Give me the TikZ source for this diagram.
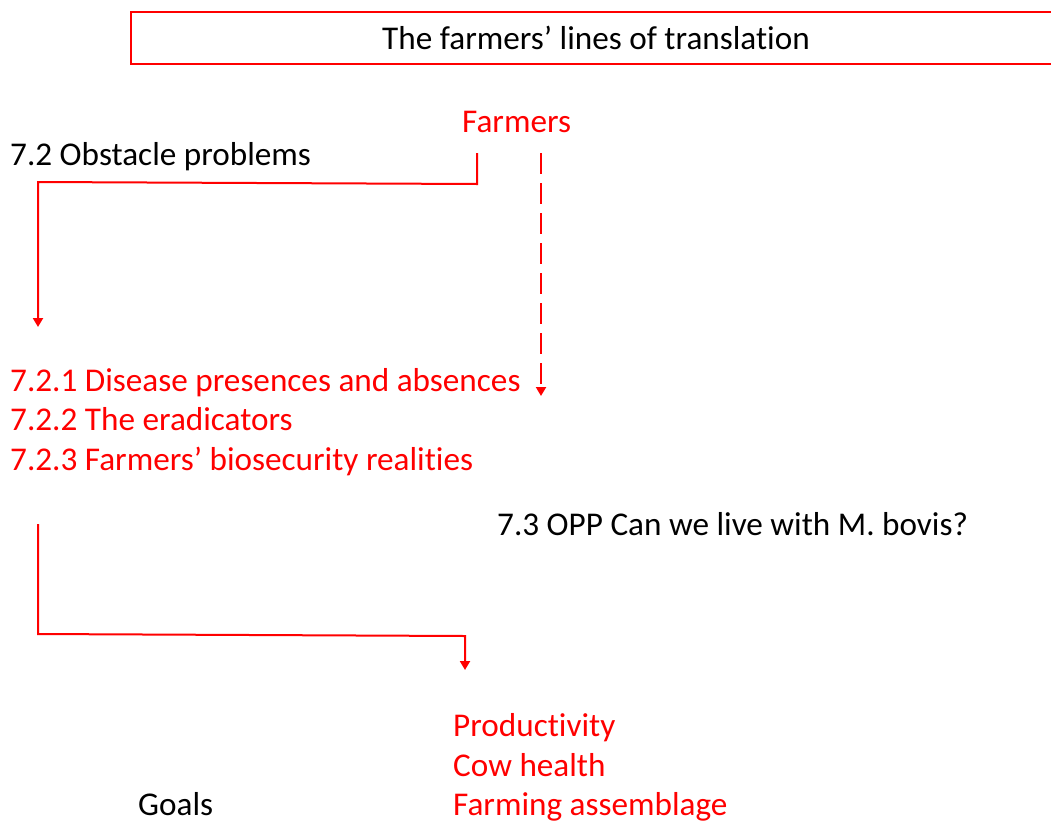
\documentclass[tikz,border=0pt]{standalone}
\usepackage{fontspec}
\setmainfont{Carlito}[Ligatures={NoCommon,NoContextual}]
\usetikzlibrary{arrows.meta}
\definecolor{lred}{RGB}{255,0,0}
\begin{document}
\begin{tikzpicture}[x=1pt,y=-1pt,
  lbl/.style={anchor=base west,inner sep=0pt,font=\fontsize{33.2}{40}\selectfont},
  redlbl/.style={lbl,text=lred},
  link/.style={draw=lred,line width=2pt,-{Triangle[width=10pt,length=9pt]}},
  dashlink/.style={link,dash pattern=on 21pt off 9pt}]
\useasboundingbox (0,0) rectangle (1051,822);
% title banner, running off the right edge
\draw[lred,line width=2pt] (1060,64) -- (131,64) -- (131,12) -- (1060,12);
\node[lbl,anchor=base] (title) at (596,49) {The farmers’ lines of translation};
% labels
\node[redlbl] (farmers) at (462,132) {Farmers};
\node[lbl] (obstacle) at (10,165) {7.2 Obstacle problems};
\node[redlbl] (s721) at (10,391) {7.2.1 Disease presences and absences};
\node[redlbl] (s722) at (10,430) {7.2.2 The eradicators};
\node[redlbl] (s723) at (10,470) {7.2.3 Farmers’ biosecurity realities};
\node[lbl] (opp) at (497,535) {7.3 OPP Can we live with M. bovis?};
\node[redlbl] (prod) at (453,736) {Productivity};
\node[redlbl] (cow) at (453,776) {Cow health};
\node[redlbl] (assem) at (453,815) {Farming assemblage};
\node[lbl] (goals) at (138,815) {Goals};
% connector end points
\coordinate (fA) at (477,153);
\coordinate (oA) at (38,327);
\coordinate (fB) at (541,153);
\coordinate (dB) at (541,396);
\coordinate (sC) at (38,524);
\coordinate (pC) at (465,670);
% connectors
\draw[link] (fA) -- (477,184) -- (38,182) -- (oA);
\draw[dashlink] (fB) -- (dB);
\draw[link] (sC) -- (38,634) -- (465,636) -- (pC);
\end{tikzpicture}
\end{document}
